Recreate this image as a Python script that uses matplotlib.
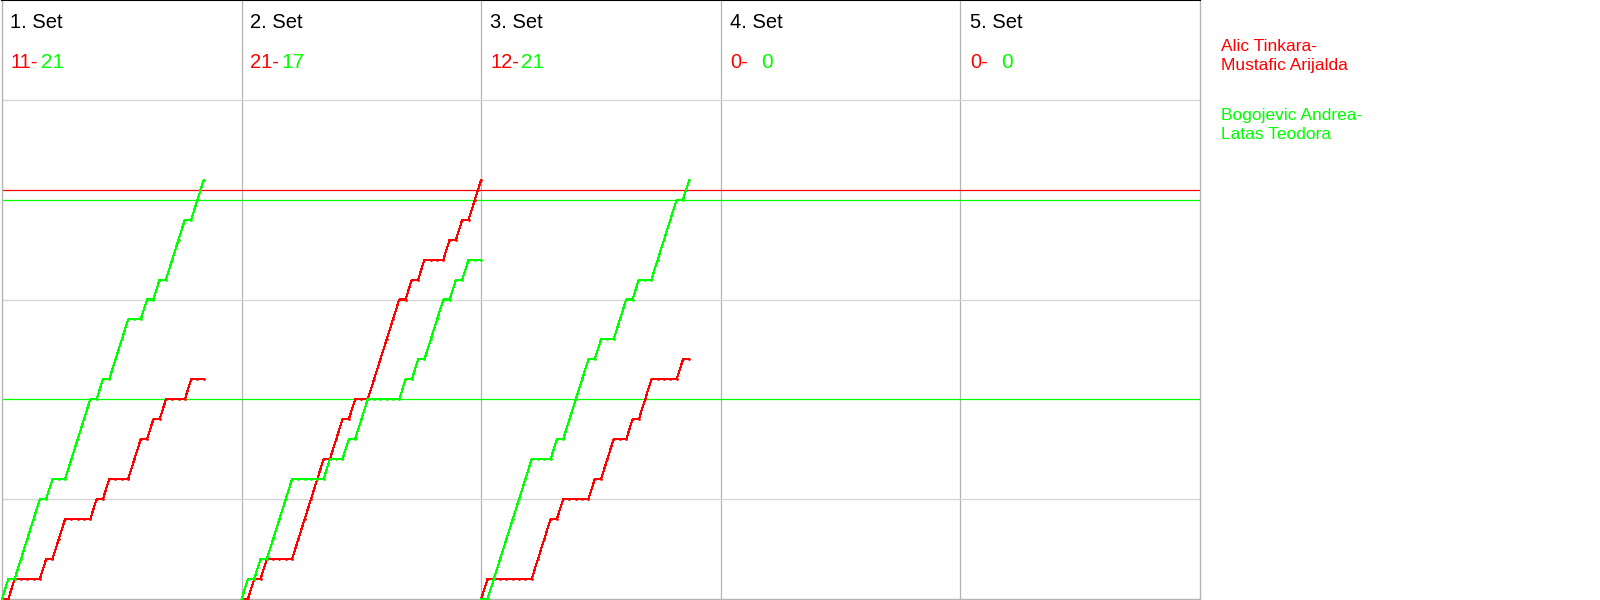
import matplotlib
matplotlib.use("Agg")
from matplotlib import pyplot as plt
import numpy as np

plt.rcParams['font.family'] = ['Liberation Sans', 'DejaVu Sans']

# Spielverlauf pro Satz: R = rot punktet, G = gruen punktet
set_labels = ["1. Set", "2. Set", "3. Set", "4. Set", "5. Set"]
red_scores = [11, 21, 12, 0, 0]
green_scores = [21, 17, 21, 0, 0]
rallies = [
    "GRGGGGRGRRGGGGRGRGGGRRGRGRGGGRGG",
    "GRGRGGGGRRRRRGRRGRGGRRRRRGRGRGGGRGRGRR",
    "RGGGGGGGRRRGRGGGGRGRRGGRGRRGGGGRG",
    "",
    "",
]
red_name = "Alic Tinkara-\nMustafic Arijalda"
green_name = "Bogojevic Andrea-\nLatas Teodora"
red_lines = [20.5]
green_lines = [10, 20]

RED = '#ff0000'
GREEN = '#00ff00'
W, H = 1600, 600
col_len = 38  # Ballwechsel pro Spalte

fig = plt.figure(figsize=(16, 6), dpi=100)
ax = fig.add_axes([2 / W, 1 / H, 1198 / W, 599 / H])
ax.set_xlim(0, col_len * 5)
ax.set_ylim(0, 30)
ax.set_xticks([])
ax.set_yticks([])
for s in ['left', 'right', 'bottom']:
    ax.spines[s].set_color('#b4b4b4')
    ax.spines[s].set_linewidth(1)
ax.spines['top'].set_color('black')
ax.spines['top'].set_linewidth(1.5)

# Gitter
for i in range(1, 5):
    ax.axvline(i * col_len, color='#b4b4b4', lw=0.9, zorder=1)
for yv in [5, 15, 25]:
    ax.axhline(yv, color='#d4d4d4', lw=0.9, zorder=1)
for yv in red_lines:
    ax.axhline(yv, color=RED, lw=0.9, zorder=1.5)
for yv in green_lines:
    ax.axhline(yv, color=GREEN, lw=0.9, zorder=1.5)

# Verlaufskurven
for i, seq in enumerate(rallies):
    if not seq:
        continue
    x = i * col_len + np.arange(len(seq) + 1)
    r = np.concatenate([[0], np.cumsum([c == 'R' for c in seq])])
    g = np.concatenate([[0], np.cumsum([c == 'G' for c in seq])])
    ax.plot(x, r, color=RED, lw=0.75, marker='.', ms=2, antialiased=False, clip_on=False, zorder=3)
    ax.plot(x, g, color=GREEN, lw=0.75, marker='.', ms=2, antialiased=False, clip_on=False, zorder=3)

# Kopfzeilen
for i in range(5):
    x0 = 2 + i * 240
    fig.text((x0 + 8) / W, 1 - 23 / H, set_labels[i], fontsize=14.5, color='black', va='center', ha='left')
    fig.text((x0 + 8) / W, 1 - 62 / H, f"{red_scores[i]}-", fontsize=14.5, color=RED, va='center', ha='left')
    fig.text((x0 + 39) / W, 1 - 62 / H, str(green_scores[i]), fontsize=15, color=GREEN, va='center', ha='left')

# Legende
fig.text(1221 / W, 1 - 56 / H, red_name, fontsize=12.5, color=RED, va='center', ha='left', linespacing=1.3)
fig.text(1221 / W, 1 - 125 / H, green_name, fontsize=12.5, color=GREEN, va='center', ha='left', linespacing=1.3)

plt.savefig('out.png', dpi=100)
